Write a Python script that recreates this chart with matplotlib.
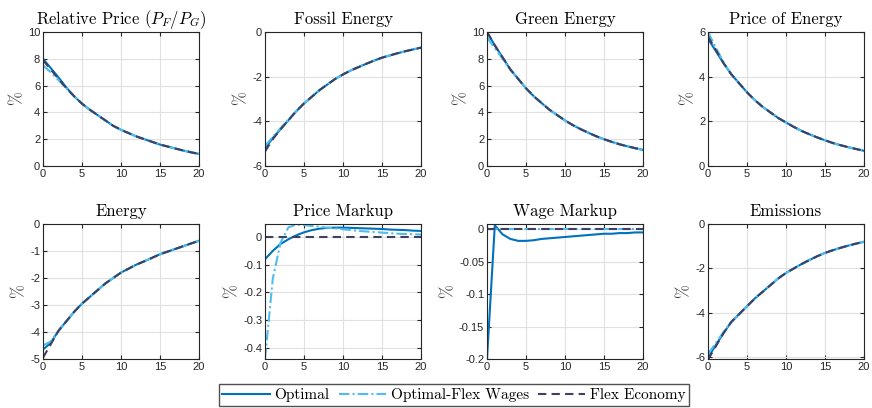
import matplotlib
matplotlib.use("Agg")
import matplotlib.pyplot as plt
import numpy as np

plt.rcParams["font.family"] = ["Liberation Sans", "DejaVu Sans"]
plt.rcParams["mathtext.fontset"] = "cm"
plt.rcParams["axes.unicode_minus"] = False

quarters = list(range(21))

# relative price P_F / P_G
relp_opt = [8.0, 7.3, 6.6, 5.85, 5.2, 4.65, 4.2, 3.8, 3.4, 3.0, 2.7, 2.45, 2.2, 2.0, 1.8, 1.6, 1.45, 1.3, 1.15, 1.02, 0.9]
relp_flexw = [7.5, 7.0, 6.4, 5.8, 5.2, 4.65, 4.2, 3.8, 3.4, 3.0, 2.7, 2.45, 2.2, 2.0, 1.8, 1.6, 1.45, 1.3, 1.15, 1.02, 0.9]
relp_flex = [7.9, 7.2, 6.5, 5.8, 5.2, 4.65, 4.2, 3.8, 3.4, 3.0, 2.7, 2.45, 2.2, 2.0, 1.8, 1.6, 1.45, 1.3, 1.15, 1.02, 0.9]

fossil_opt = [-5.2, -4.75, -4.35, -3.95, -3.55, -3.2, -2.9, -2.6, -2.35, -2.1, -1.9, -1.72, -1.57, -1.42, -1.28, -1.15, -1.05, -0.95, -0.86, -0.78, -0.7]
fossil_flexw = [-5.1, -4.7, -4.3, -3.93, -3.55, -3.2, -2.9, -2.6, -2.35, -2.1, -1.9, -1.72, -1.57, -1.42, -1.28, -1.15, -1.05, -0.95, -0.86, -0.78, -0.7]
fossil_flex = [-5.35, -4.8, -4.35, -3.95, -3.55, -3.2, -2.9, -2.6, -2.35, -2.1, -1.9, -1.72, -1.57, -1.42, -1.28, -1.15, -1.05, -0.95, -0.86, -0.78, -0.7]

green_opt = [10.0, 9.0, 8.1, 7.2, 6.5, 5.8, 5.2, 4.7, 4.2, 3.8, 3.4, 3.05, 2.75, 2.48, 2.22, 2.0, 1.8, 1.62, 1.47, 1.33, 1.2]
green_flexw = [9.6, 8.8, 8.0, 7.2, 6.5, 5.8, 5.2, 4.7, 4.2, 3.8, 3.4, 3.05, 2.75, 2.48, 2.22, 2.0, 1.8, 1.62, 1.47, 1.33, 1.2]
green_flex = [10.0, 9.0, 8.1, 7.2, 6.5, 5.8, 5.2, 4.7, 4.2, 3.8, 3.4, 3.05, 2.75, 2.48, 2.22, 2.0, 1.8, 1.62, 1.47, 1.33, 1.2]

pe_opt = [5.7, 5.15, 4.6, 4.1, 3.7, 3.3, 2.95, 2.65, 2.4, 2.15, 1.95, 1.75, 1.57, 1.42, 1.28, 1.15, 1.03, 0.93, 0.84, 0.76, 0.68]
pe_flexw = [6.0, 5.3, 4.65, 4.1, 3.7, 3.3, 2.95, 2.65, 2.4, 2.15, 1.95, 1.75, 1.57, 1.42, 1.28, 1.15, 1.03, 0.93, 0.84, 0.76, 0.68]
pe_flex = [5.8, 5.2, 4.6, 4.1, 3.7, 3.3, 2.95, 2.65, 2.4, 2.15, 1.95, 1.75, 1.57, 1.42, 1.28, 1.15, 1.03, 0.93, 0.84, 0.76, 0.68]

energy_opt = [-4.65, -4.4, -3.95, -3.6, -3.25, -2.95, -2.7, -2.45, -2.2, -2.0, -1.8, -1.65, -1.5, -1.38, -1.25, -1.12, -1.02, -0.92, -0.82, -0.72, -0.62]
energy_flexw = [-4.5, -4.35, -3.95, -3.6, -3.25, -2.95, -2.7, -2.45, -2.2, -2.0, -1.8, -1.65, -1.5, -1.38, -1.25, -1.12, -1.02, -0.92, -0.82, -0.72, -0.62]
energy_flex = [-4.95, -4.45, -3.95, -3.6, -3.25, -2.95, -2.7, -2.45, -2.2, -2.0, -1.8, -1.65, -1.5, -1.38, -1.25, -1.12, -1.02, -0.92, -0.82, -0.72, -0.62]

pmk_opt = [-0.08, -0.05, -0.025, -0.008, 0.006, 0.017, 0.025, 0.03, 0.033, 0.034, 0.034, 0.033, 0.032, 0.031, 0.03, 0.029, 0.027, 0.026, 0.025, 0.023, 0.022]
pmk_flexw = [-0.44, -0.15, -0.02, 0.035, 0.045, 0.043, 0.04, 0.037, 0.034, 0.031, 0.028, 0.025, 0.022, 0.02, 0.018, 0.016, 0.014, 0.012, 0.011, 0.01, 0.009]
pmk_flex = [0.0] * 21

wmk_opt = [-0.2, 0.006, -0.008, -0.015, -0.018, -0.018, -0.017, -0.015, -0.014, -0.013, -0.012, -0.011, -0.01, -0.009, -0.008, -0.007, -0.007, -0.006, -0.006, -0.005, -0.005]
wmk_flexw = [0.0] * 21
wmk_flex = [0.0] * 21

emis_opt = [-6.0, -5.45, -4.9, -4.4, -4.05, -3.7, -3.35, -3.05, -2.75, -2.45, -2.2, -2.0, -1.8, -1.62, -1.45, -1.3, -1.18, -1.07, -0.97, -0.88, -0.8]
emis_flexw = [-5.85, -5.35, -4.85, -4.4, -4.05, -3.7, -3.35, -3.05, -2.75, -2.45, -2.2, -2.0, -1.8, -1.62, -1.45, -1.3, -1.18, -1.07, -0.97, -0.88, -0.8]
emis_flex = [-6.1, -5.5, -4.9, -4.4, -4.05, -3.7, -3.35, -3.05, -2.75, -2.45, -2.2, -2.0, -1.8, -1.62, -1.45, -1.3, -1.18, -1.07, -0.97, -0.88, -0.8]

panels = [
    ("Relative Price $(P_F/P_G)$", relp_opt, relp_flexw, relp_flex, (0, 10), [0, 2, 4, 6, 8, 10]),
    ("Fossil Energy", fossil_opt, fossil_flexw, fossil_flex, (-6, 0), [-6, -4, -2, 0]),
    ("Green Energy", green_opt, green_flexw, green_flex, (0, 10), [0, 2, 4, 6, 8, 10]),
    ("Price of Energy", pe_opt, pe_flexw, pe_flex, (0, 6), [0, 2, 4, 6]),
    ("Energy", energy_opt, energy_flexw, energy_flex, (-5, 0), [-5, -4, -3, -2, -1, 0]),
    ("Price Markup", pmk_opt, pmk_flexw, pmk_flex, (-0.44, 0.047), [-0.4, -0.3, -0.2, -0.1, 0]),
    ("Wage Markup", wmk_opt, wmk_flexw, wmk_flex, (-0.2, 0.008), [-0.2, -0.15, -0.1, -0.05, 0]),
    ("Emissions", emis_opt, emis_flexw, emis_flex, (-6.07, 0), [-6, -4, -2, 0]),
]

W, H = 872, 408
lefts = [43, 265, 487, 708]
width = 156
rows = [(32, 166), (224, 359)]

fig = plt.figure(figsize=(W / 100, H / 100), dpi=100)

c_opt = "#0072BD"
c_flexw = "#4DBEEE"
c_flex = "#404060"

for k, (title, opt, flexw, flex, ylim, yticks) in enumerate(panels):
    r, c = divmod(k, 4)
    top, bot = rows[r]
    ax = fig.add_axes([lefts[c] / W, 1 - bot / H, width / W, (bot - top) / H])
    l1, = ax.plot(quarters, opt, color=c_opt, lw=1.5, ls="-", label="Optimal")
    l2, = ax.plot(quarters, flexw, color=c_flexw, lw=1.5, ls=(0, (5, 1.5, 1, 1.5)), label="Optimal-Flex Wages")
    l3, = ax.plot(quarters, flex, color=c_flex, lw=1.5, ls=(0, (4, 2.5)), label="Flex Economy")
    ax.set_xlim(0, 20)
    ax.set_ylim(*ylim)
    ax.set_xticks([0, 5, 10, 15, 20])
    ax.set_yticks(yticks)
    ax.set_yticklabels([("%g" % v) for v in yticks])
    ax.grid(True, color="#e0e0e0", lw=0.8)
    ax.set_axisbelow(True)
    ax.tick_params(direction="in", top=True, right=True, labelsize=8, length=3,
                   color="#262626", labelcolor="#262626", pad=2)
    for s in ax.spines.values():
        s.set_color("#262626")
        s.set_linewidth(0.8)
    ax.set_title(title, fontsize=12, family="cmr10", pad=6)
    ax.set_ylabel("$\\%$", fontsize=12, color="#404040", labelpad=2)

fig.legend(handles=[l1, l2, l3], loc="lower center", bbox_to_anchor=(454 / W, 2 / H),
           ncol=3, frameon=True, fancybox=False, edgecolor="#262626",
           prop={"family": "cmr10", "size": 11}, handlelength=3.1, handletextpad=0.3,
           columnspacing=0.6, borderpad=0.25, borderaxespad=0)

fig.savefig("out.png", dpi=100)
